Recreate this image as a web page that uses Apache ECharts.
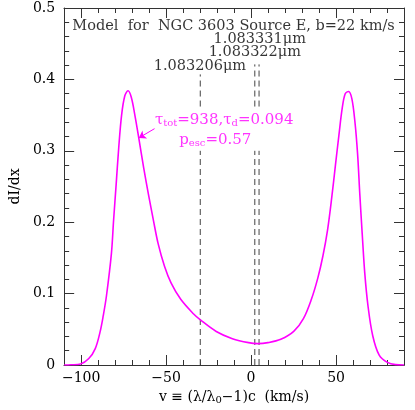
<!DOCTYPE html>
<html>
<head>
<meta charset="utf-8">
<script src="https://cdn.jsdelivr.net/npm/echarts@6/dist/echarts.min.js"></script>
<style>
  html, body { margin: 0; padding: 0; background: #fff; }
  #chart { width: 415px; height: 410px; }
</style>
</head>
<body>
<div id="chart"></div>
<script>
// line profile
var vel = [-110, -106, -100.3, -95.5, -91.7, -88.9, -87.0, -85.1, -82.2, -80.9, -79.4, -77.9, -76.2, -74.3, -72.4,
  -70.5, -68.4, -66.1, -63.2, -60.4, -57.5, -54.7, -50.9, -47.1, -41.4, -33.8, -30.0, -20.5, -11.0, -1.5, 4, 9.9,
  17.5, 25.1, 30.8, 35.5, 39.3, 42.3, 45.0, 47.5, 49.7, 51.7, 53.6, 55.4, 57.4, 59.3, 61.1, 62.7, 64.0,
  65.4, 66.9, 68.8, 71.6, 75.4, 80.2, 85, 90];
var flux = [0.0, 0.0003, 0.0014, 0.009, 0.023, 0.046, 0.069, 0.097, 0.156, 0.203, 0.253, 0.304, 0.350, 0.377, 0.384,
  0.375, 0.350, 0.318, 0.276, 0.239, 0.203, 0.170, 0.138, 0.115, 0.092, 0.0714, 0.0635, 0.047, 0.0369, 0.0313, 0.030, 0.0313,
  0.036, 0.047, 0.065, 0.092, 0.122, 0.153, 0.189, 0.235, 0.281, 0.322, 0.359, 0.380, 0.383, 0.373, 0.341, 0.295, 0.239,
  0.184, 0.129, 0.083, 0.041, 0.0138, 0.0037, 0.0005, 0.0];

// axis ticks
var xMajor = [-100, -50, 0, 50];
var xMinor = [-110, -90, -80, -70, -60, -40, -30, -20, -10, 10, 20, 30, 40, 60, 70, 80, 90];

// He I component positions (km/s) and their labels
var lineVel = [-29.9, 2.2, 4.7];
var lineTop = [0.407, 0.421, 0.421];
var lineGap = [0.300, 0.362];
var lineNames = ['1.083206\u03bcm', '1.083322\u03bcm', '1.083331\u03bcm'];

var titleText = 'Model  for  NGC 3603 Source E, b=22 km/s';

var FONT = 'DejaVu Serif';
var MAG = '#ff00ff';
var AX = '#333';

var myChart = echarts.init(document.getElementById('chart'));

var curve = [];
for (var i = 0; i < vel.length; i++) {
  curve.push([vel[i], flux[i]]);
}

var dashSeries = [];
for (var j = 0; j < lineVel.length; j++) {
  dashSeries.push({
    type: 'line',
    symbol: 'none',
    silent: true,
    connectNulls: false,
    data: [[lineVel[j], 0], [lineVel[j], lineGap[0]], [lineVel[j], '-'], [lineVel[j], lineGap[1]], [lineVel[j], lineTop[j]]],
    lineStyle: { color: '#444', width: 1, type: [6, 4] },
    z: 1
  });
}

// text placed in data coordinates
function textSeries(x, y, text, pos, style) {
  return {
    type: 'scatter',
    symbolSize: 0,
    silent: true,
    data: [[x, y]],
    label: Object.assign({
      show: true,
      position: pos,
      distance: 0,
      formatter: text,
      fontFamily: FONT,
      fontSize: 14.5,
      color: '#000'
    }, style || {}),
    z: 5
  };
}

function xAx(pos, major, showLabel) {
  var ax = {
    type: 'value', min: -110, max: 90,
    position: pos,
    axisLine: { show: true, onZero: false, lineStyle: { color: AX, width: 1 } },
    axisTick: { show: true, inside: true, length: major ? 10 : 5, customValues: major ? xMajor : xMinor, lineStyle: { color: AX } },
    axisLabel: { show: false },
    splitLine: { show: false }
  };
  if (showLabel) {
    ax.axisLabel = { show: true, customValues: xMajor, color: '#000', fontFamily: FONT, fontSize: 14, margin: 6,
      formatter: function (v) { return v < 0 ? '\u2212' + (-v) : String(v); } };
    ax.name = 'v \u2261 (\u03bb/\u03bb{s|0}\u22121)c  (km/s)';
    ax.nameLocation = 'middle';
    ax.nameGap = 24;
    ax.nameTextStyle = { color: '#000', fontFamily: FONT, fontSize: 14,
      rich: { s: { fontFamily: FONT, fontSize: 10, color: '#000', verticalAlign: 'bottom', padding: [6, 0, 0, 0] } } };
  }
  return ax;
}

function yAx(pos, showLabel) {
  var ax = {
    type: 'value', min: 0, max: 0.5, interval: 0.1,
    position: pos,
    axisLine: { show: true, onZero: false, lineStyle: { color: AX, width: 1 } },
    axisTick: { show: true, inside: true, length: 10, lineStyle: { color: AX } },
    minorTick: { show: true, splitNumber: 5, length: 5, lineStyle: { color: AX } },
    axisLabel: { show: false },
    splitLine: { show: false }
  };
  if (showLabel) {
    ax.axisLabel = { show: true, color: '#000', fontFamily: FONT, fontSize: 14, margin: 9,
      formatter: function (v) { return v === 0 ? '0' : v.toFixed(1); } };
    ax.name = 'dI/dx';
    ax.nameLocation = 'middle';
    ax.nameGap = 36;
    ax.nameRotate = 90;
    ax.nameTextStyle = { color: '#000', fontFamily: FONT, fontSize: 14 };
  }
  return ax;
}

var subRich = {
  sub: { fontFamily: FONT, fontSize: 10, color: MAG, verticalAlign: 'bottom', padding: [6, 0, 0, 0] },
  n: { fontFamily: FONT, fontSize: 15, color: MAG }
};

myChart.setOption({
  animation: false,
  backgroundColor: '#fff',
  grid: { left: 53, right: 11, top: 8, bottom: 40, containLabel: false },
  xAxis: [xAx('bottom', true, true), xAx('bottom', false, false), xAx('top', true, false), xAx('top', false, false)],
  yAxis: [yAx('left', true), yAx('right', false)],
  series: [
    {
      type: 'line',
      data: curve,
      smooth: 0.35,
      symbol: 'none',
      lineStyle: { color: MAG, width: 1.6 },
      z: 3
    }
  ].concat(dashSeries).concat([
    textSeries(-10.3, 0.475, titleText, 'inside'),
    textSeries(lineVel[2] + 0.4, 0.456, lineNames[2], 'inside'),
    textSeries(lineVel[1], 0.438, lineNames[1], 'inside'),
    textSeries(-30.1, 0.4185, lineNames[0], 'inside'),
    textSeries(-56.6, 0.343, '{n|\u03c4}{sub|tot}{n|=938,\u03c4}{sub|d}{n|=0.094}', 'right', { rich: subRich }),
    textSeries(-42.3, 0.315, '{n|p}{sub|esc}{n|=0.57}', 'right', { rich: subRich }),
    {
      type: 'lines',
      coordinateSystem: 'cartesian2d',
      silent: true,
      symbol: ['none', 'arrow'],
      symbolSize: 7,
      data: [{ coords: [[-56.8, 0.331], [-66.1, 0.318]] }],
      lineStyle: { color: MAG, width: 1, opacity: 1 },
      z: 4
    }
  ])
});
</script>
</body>
</html>
